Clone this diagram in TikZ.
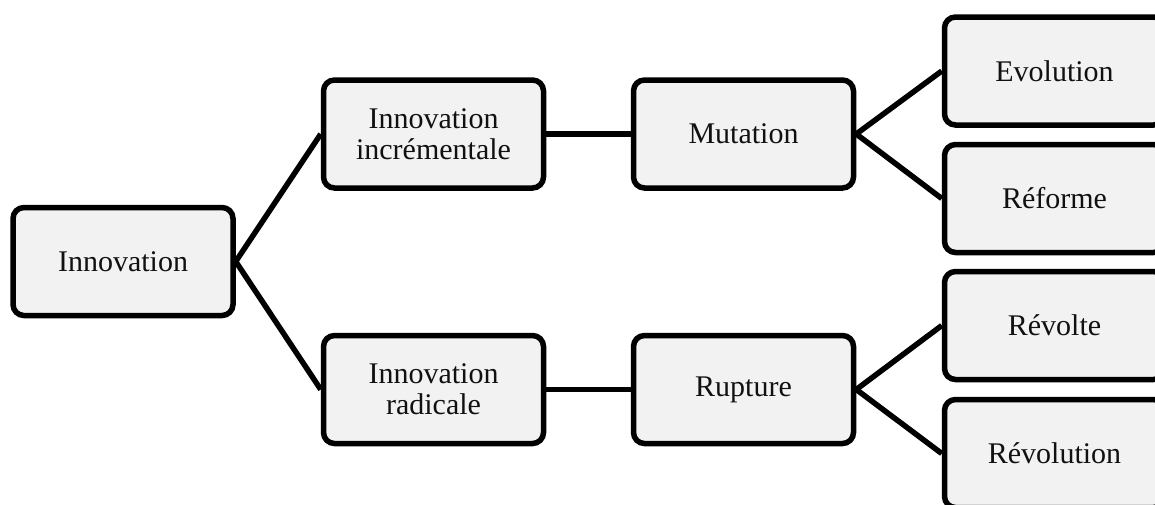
\documentclass[tikz,border=0pt]{standalone}
\usepackage{fontspec}
\setmainfont{Liberation Serif}
\definecolor{boxfill}{HTML}{F2F2F2}
\definecolor{txt}{HTML}{111111}
\tikzset{
  box/.style={draw=black, fill=boxfill, line width=5.5pt, rounded corners=11pt,
    minimum width=220pt, minimum height=108pt, inner sep=0pt, align=center,
    text=txt, font=\fontsize{30}{31}\selectfont},
  link/.style={draw=black, line width=5.5pt}
}
\begin{document}
\begin{tikzpicture}[x=1pt,y=-1pt]
\clip (0,0) rectangle (1155,504);
\fill[white] (0,0) rectangle (1155,504);
\node[box] (inno) at (123,261.5) {Innovation};
\node[box] (incr) at (433.5,134) {Innovation\\incrémentale};
\node[box] (radi) at (433.5,389.5) {Innovation\\radicale};
\node[box] (mut) at (743.5,134) {Mutation};
\node[box] (rup) at (743.5,389.5) {Rupture};
\node[box] (evo) at (1054.5,71) {Evolution};
\node[box] (ref) at (1054.5,198.5) {Réforme};
\node[box] (revt) at (1054.5,325.5) {Révolte};
\node[box] (revn) at (1054.5,453.5) {Révolution};
\draw[link] (inno.east) -- (incr.west);
\draw[link] (inno.east) -- (radi.west);
\draw[link] (incr.east) -- (mut.west);
\draw[link] (radi.east) -- (rup.west);
\draw[link] (mut.east) -- (evo.west);
\draw[link] (mut.east) -- (ref.west);
\draw[link] (rup.east) -- (revt.west);
\draw[link] (rup.east) -- (revn.west);
\end{tikzpicture}
\end{document}
